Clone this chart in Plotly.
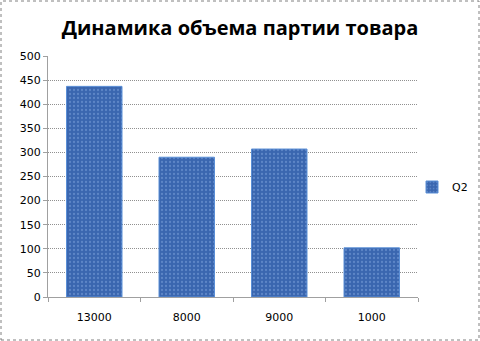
import plotly.graph_objects as go

categories = ["13000", "8000", "9000", "1000"]
values_q2 = [437, 290, 307, 102]
y_ticks = [0, 50, 100, 150, 200, 250, 300, 350, 400, 450, 500]

W, H = 480, 341
ml, mr, mt, mb = 48, 62, 56, 44
pw, ph = W - ml - mr, H - mt - mb

fig = go.Figure()
fig.add_trace(go.Bar(
    x=categories, y=values_q2, name="Q2", width=0.6,
    marker=dict(
        color="#3F6DB7",
        line=dict(color="#5B8FD6", width=1),
        pattern=dict(shape=".", bgcolor="#3A66AF", fgcolor="#7FA6DE", size=4, solidity=0.25),
    ),
))

fig.update_layout(
    width=W, height=H,
    margin=dict(l=ml, r=mr, t=mt, b=mb, autoexpand=False),
    paper_bgcolor="white", plot_bgcolor="white",
    title=dict(text="<b>Динамика объема партии товара</b>", x=0.5, xanchor="center",
               y=1 - 28 / H, yanchor="middle",
               font=dict(family="Open Sans", size=20, color="black")),
    font=dict(family="DejaVu Sans", size=11, color="black"),
    showlegend=True,
    legend=dict(xref="container", yref="container", x=412 / W, y=1 - 187 / H,
                xanchor="left", yanchor="middle",
                font=dict(family="DejaVu Sans", size=11), itemwidth=30,
                bgcolor="rgba(0,0,0,0)"),
    bargap=0.4,
    xaxis=dict(type="category", showline=True, linecolor="#A0A0A0", linewidth=1,
               ticks="outside", tickson="boundaries", ticklen=4, tickcolor="#A0A0A0",
               ticklabelstandoff=10,
               showgrid=False, tickfont=dict(size=11)),
    yaxis=dict(range=[0, 500], tickvals=y_ticks, showline=True, linecolor="#A0A0A0",
               ticks="outside", ticklen=4, tickcolor="#A0A0A0",
               showgrid=True, gridcolor="#909090", griddash="1px,1px", gridwidth=1,
               zeroline=False, tickfont=dict(size=11)),
    shapes=[dict(type="rect", xref="paper", yref="paper",
                 x0=-(ml - 1) / pw, x1=1 + (mr - 1) / pw,
                 y0=-(mb - 1) / ph, y1=1 + (mt - 1) / ph,
                 line=dict(color="#808080", width=1, dash="dot"))],
)

fig.write_html("out.html")
